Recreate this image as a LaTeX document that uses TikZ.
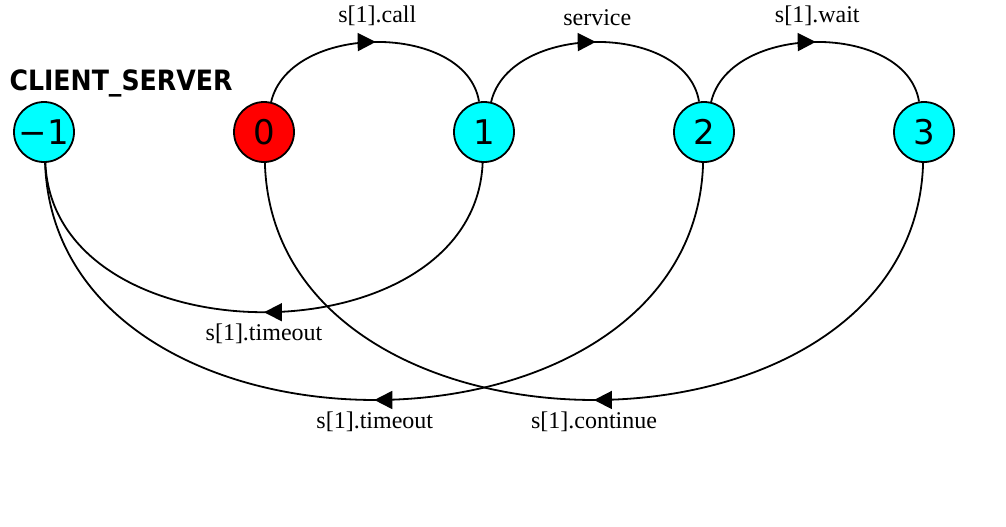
\documentclass[tikz,border=0pt]{standalone}
\usepackage{fontspec}
\setmainfont{Liberation Serif}
\newfontfamily\statefont{DejaVu Sans}
\newfontfamily\titlefont{DejaVu Sans}[FakeStretch=0.9]
\usetikzlibrary{arrows.meta,decorations.markings}
\definecolor{statecyan}{RGB}{0,255,255}
\definecolor{statered}{RGB}{255,0,0}

\begin{document}
\begin{tikzpicture}[x=0.5pt,y=-0.5pt,
  state/.style={circle,draw,line width=0.9pt,fill=statecyan,minimum size=30pt,inner sep=0pt,
    font=\statefont\fontsize{17}{17}\selectfont},
  trans/.style={line width=0.9pt,postaction={decorate},
    decoration={markings,mark=at position 0.5 with {\arrow{Triangle[length=9pt,width=9pt]}}}},
  lbl/.style={font=\fontsize{12}{14}\selectfont}]
\useasboundingbox (0,0) rectangle (1006,526);

\node[font=\titlefont\bfseries\fontsize{14}{14}\selectfont] (title) at (121,83) {CLIENT\_SERVER};

\node[state] (sm1) at (44,132) {−1};
\node[state,fill=statered] (s0) at (264,132) {0};
\node[state] (s1) at (484,132) {1};
\node[state] (s2) at (704,132) {2};
\node[state] (s3) at (924,132) {3};

\draw[trans] (s0) .. controls (290,22) and (466,22) .. node[lbl,above=4.5pt] {s[1].call} (s1);
\draw[trans] (s1) .. controls (510,22) and (686,22) .. node[lbl,above=4.5pt] {service} (s2);
\draw[trans] (s2) .. controls (730,22) and (906,22) .. node[lbl,above=4.5pt] {s[1].wait} (s3);

\draw[trans] (s1) .. controls (474,362) and (54,362) .. node[lbl,below=2pt] {s[1].timeout} (sm1);
\draw[trans] (s2) .. controls (694,479) and (56,479) .. node[lbl,below=2pt] {s[1].timeout} (sm1);
\draw[trans] (s3) .. controls (914,479) and (274,479) .. node[lbl,below=2pt] {s[1].continue} (s0);
\end{tikzpicture}
\end{document}
